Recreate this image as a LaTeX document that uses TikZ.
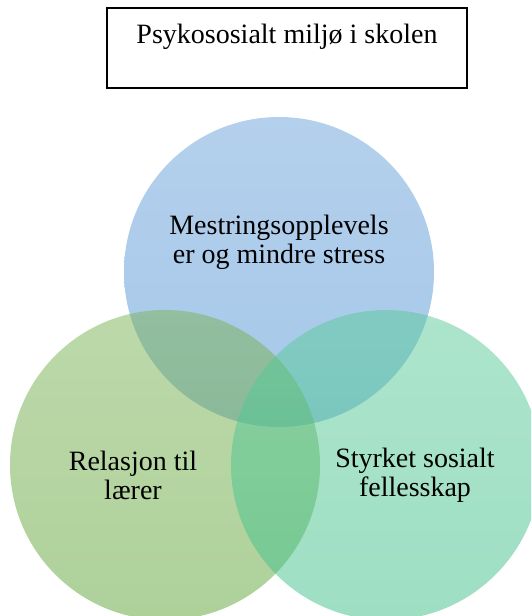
\documentclass[tikz,border=0pt]{standalone}
\usepackage{fontspec}
\setmainfont{Liberation Serif}
\usetikzlibrary{positioning}
\definecolor{blueTop}{RGB}{105,161,217}
\definecolor{blueBot}{RGB}{77,145,213}
\definecolor{greenTop}{RGB}{123,179,85}
\definecolor{greenBot}{RGB}{93,163,53}
\definecolor{tealTop}{RGB}{91,203,153}
\definecolor{tealBot}{RGB}{61,191,137}
\begin{document}
\begin{tikzpicture}[x=0.5pt,y=-0.5pt]
  \tikzstyle{venn}=[circle,inner sep=0pt,minimum size=155pt,fill opacity=0.5,draw=none]
  \tikzstyle{lbl}=[align=center,font=\fontsize{14}{14.5}\selectfont,text=black]
  \useasboundingbox (0,0) rectangle (531,616);
  \clip (0,0) rectangle (531,616);
  \node[draw,thick,minimum width=180pt,minimum height=40pt] (box) at (287,48) {};
  \node[lbl,anchor=base] (title) at (287,43) {Psykososialt miljø i skolen};
  \node[venn,top color=blueTop,bottom color=blueBot] (mestring) at (279,272) {};
  \node[venn,top color=greenTop,bottom color=greenBot] (relasjon) at (165,465) {};
  \node[venn,top color=tealTop,bottom color=tealBot] (fellesskap) at (386,465) {};
  \node[lbl] (mtxt) at (279,242) {Mestringsopplevels\\er og mindre stress};
  \node[lbl] (rtxt) at (133,475) {Relasjon til\\lærer};
  \node[lbl] (ftxt) at (415,475) {Styrket sosialt\\fellesskap};
\end{tikzpicture}
\end{document}
